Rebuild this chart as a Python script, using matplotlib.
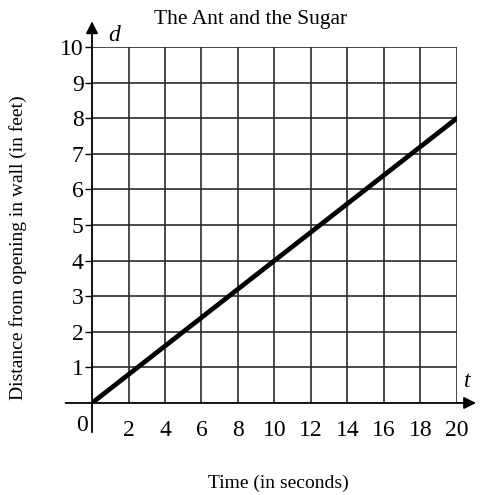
import matplotlib.pyplot as plt
import numpy as np

plt.rcParams['font.family'] = ['Liberation Serif', 'DejaVu Serif']

# data
t_vals = [0, 20]
d_vals = [0, 8]
x_ticks = [2, 4, 6, 8, 10, 12, 14, 16, 18, 20]
y_ticks = [1, 2, 3, 4, 5, 6, 7, 8, 9, 10]

fig = plt.figure(figsize=(4.82, 4.95), dpi=100)
ax = fig.add_axes([0.1909, 0.1859, 0.948 - 0.1909, 0.905 - 0.1859])

ax.set_xlim(0, 20)
ax.set_ylim(0, 10)

# grid
for x in x_ticks:
    ax.axvline(x, color='#2a2a2a', lw=1.2)
for y in y_ticks:
    ax.axhline(y, color='#2a2a2a', lw=1.2)

ax.plot(t_vals, d_vals, color='black', lw=3.4, solid_capstyle='round')

for s in ax.spines.values():
    s.set_visible(False)

# axes with arrows
ax.annotate('', xy=(21.2, 0), xytext=(-1.6, 0),
            arrowprops=dict(arrowstyle='-|>', color='black', lw=1.3, mutation_scale=18),
            annotation_clip=False)
ax.annotate('', xy=(0, 10.8), xytext=(0, -0.9),
            arrowprops=dict(arrowstyle='-|>', color='black', lw=1.3, mutation_scale=18),
            annotation_clip=False)

ax.set_xticks(x_ticks)
ax.set_yticks(y_ticks)
ax.tick_params(axis='x', length=0, pad=12, labelsize=17)
ax.tick_params(axis='y', direction='out', length=5, width=1, pad=1, labelsize=17)
ax.text(-0.25, -0.35, '0', ha='right', va='top', fontsize=17)

ax.text(0.9, 10.02, 'd', fontsize=17, style='italic', ha='left', va='bottom')
ax.text(20.4, 0.3, 't', fontsize=17, style='italic', ha='left', va='bottom')

fig.text(0.52, 0.96, 'The Ant and the Sugar', ha='center', va='center', fontsize=15.5)
fig.text(0.578, 0.006, 'Time (in seconds)', ha='center', va='bottom', fontsize=14)
fig.text(0.038, 0.5, 'Distance from opening in wall (in feet)', ha='center', va='center',
         rotation=90, fontsize=14)

fig.savefig('out.png', dpi=100)
